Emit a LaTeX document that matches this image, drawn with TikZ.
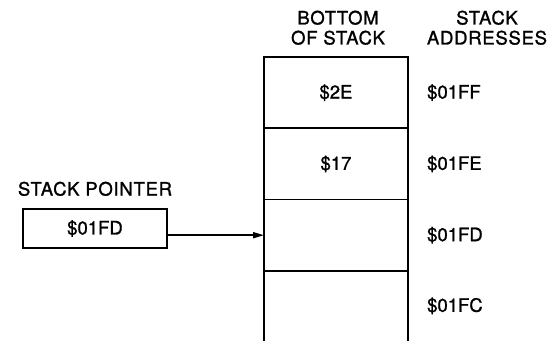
\documentclass[tikz,border=0pt]{standalone}
\usepackage{fontspec}
\setmainfont[FakeBold=1.2]{TeX Gyre Heros}
\newfontfamily\headfont[LetterSpace=4, FakeBold=1.2]{TeX Gyre Heros}
\usetikzlibrary{arrows.meta, positioning}
\tikzset{
    cell/.style={draw, line width=1.8pt, minimum width=144pt, minimum height=71.3pt, inner sep=0pt, outer sep=0pt},
    ptrbox/.style={draw, line width=1.8pt, minimum width=144pt, minimum height=39pt, inner sep=0pt},
    head/.style={font=\headfont\fontsize{18.5}{20}\selectfont, align=center, inner sep=0pt},
    addr/.style={inner sep=0pt}
}

\begin{document}
\begin{tikzpicture}[x=1pt, y=-1pt, font=\fontsize{18.5}{20}\selectfont]
    \useasboundingbox (0,0) rectangle (549,341);
    % stack cells
    \node[cell] (c1) at (336,92.6) {\$2E};
    \node[cell, below=0pt of c1] (c2) {\$17};
    \node[cell, below=0pt of c2] (c3) {};
    \node[cell, draw=none, minimum height=70pt, below=0pt of c3] (c4) {};
    \draw[line width=1.8pt] (c4.south west) -- (c4.north west);
    \draw[line width=1.8pt] (c4.north east) -- (c4.south east);
    % addresses
    \node[addr, right=19pt of c1] (a1) {\$01FF};
    \node[addr, right=19pt of c2] (a2) {\$01FE};
    \node[addr, right=19pt of c3] (a3) {\$01FD};
    \node[addr, right=19pt of c4] (a4) {\$01FC};
    % headings
    \node[head, anchor=south] (hbot) at (338,45) {BOTTOM\\OF STACK};
    \node[head, anchor=south] (hadr) at (487,45) {STACK\\ADDRESSES};
    % stack pointer
    \node[ptrbox] (sp) at (95,228.5) {\$01FD};
    \node[head, above=12pt of sp] (splabel) {STACK POINTER};
    \draw[line width=1.8pt, -{Triangle[length=11pt, width=6pt]}] (sp.east |- c3.west) -- (c3.west);
\end{tikzpicture}
\end{document}
